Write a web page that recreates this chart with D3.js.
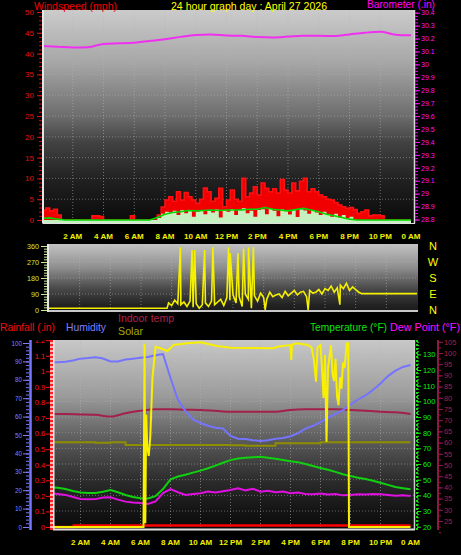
<!DOCTYPE html>
<html><head><meta charset="utf-8">
<script src="https://cdn.jsdelivr.net/npm/d3@7/dist/d3.min.js"></script>
<style>html,body{margin:0;padding:0;background:#000;overflow:hidden}svg{display:block}</style>
</head><body><svg id="chart" width="461" height="555"></svg>
<script>
// ---------------- DATA ----------------
const timeLabels = ["2 AM","4 AM","6 AM","8 AM","10 AM","12 PM","2 PM","4 PM","6 PM","8 PM","10 PM","0 AM"];
const labelHours = [2,4,6,8,10,12,14,16,18,20,22,24];

// wind (mph), 15-minute samples from 0:00 to 24:00
const windStep = 0.25;
const gustValues = [2.4,2.9,2.2,2.6,1.2, 0,0,0,0,0,0,0,0, 1,1,0.8, 0,0,0,0,0,0,0, 1, 0,0,0,0,0,0,
  1.2,3.1,4.8,5.6,4.5,6.8,4.8,6.6,5.6,4.8, 4,5,7.7,6.8,4.5,5.2,7.6,3.2, 4.8,7.2,5,4.5,10,5.6,6.5,8,
  6,8.9,7.6,6.8,7.5,6.5,9.7,7.2, 6.5,8.9,7,9.3,10,6.8,7.5,6.8, 6,5.6,5,4.8,4.2,3.6,3.2,2.8,
  3,2.5,1.6,2,2.4,1,1.2,1.2, 1, 0,0,0,0,0,0,0,0];
const speedValues = [0,0,0,0,0,0,0,0,0,0,0,0,0,0,0,0,0,0,0,0,0,0,0,0,0,0,0,0,0,0,
  0.5,1.5,2,1.8,2.2,1.2,2.4,1.6,2.2,0.8, 2,2.4,1.4,2.2,1.8,2.5,0.6,2.3, 2,2.6,1.2,2.4,2.8,1.6,2.2,0.8,
  2.4,2.6,1.4,2.7,2.2,0.9,2.5,2.1, 1.3,2.4,0.7,2.6,2.3,1.5,2.2,1.8, 1.2,2,1.4,0.8,1.5,0.6,1.2,0.4, 0.8,0,
  0,0,0,0,0,0,0,0,0,0,0,0,0,0,0];
// average wind, 30-minute samples
const avgStep = 0.5;
const avgValues = [0.4,0.5,0.2, 0,0,0,0,0,0,0,0,0,0,0,0,
  0.6,1.4,1.8,2,2.3,2.2,2.3,2.4,2.3,2.4,2.4,2.4,2.6,2.6,3,2.6,2.4,2.2,2.5,2.8,2.4,2,1.4,1,0.6,0.2,
  0,0,0,0,0,0,0,0];
// barometer (in), hourly
const baroValues = [30.142,30.137,30.131,30.133,30.158,30.163,30.168,30.181,30.194,30.213,30.228,30.232,30.224,
  30.221,30.212,30.209,30.215,30.222,30.222,30.219,30.232,30.245,30.252,30.23,30.225];

// wind direction (degrees)
const dirStart = 7.8, dirStep = 0.2;
const dirValues = [40,25,55,35, 30,45,20,50, 15,35,10,30, 40,20,50,30, 45,60,25,70, 55,85,40,75,
  20,90,60,10, 80,50,95,70, 60,100,75,85, 90,70,105,80, 95,110,85,100, 105,75,110,95,
  100,115,90,120, 110,135,100,125, 140,120,150,110, 130,115,100,92];
const dirSpikes = [[8.57,353],[9.33,337],[9.5,337],[10.15,337],[10.69,353],[11.71,353],[11.82,319],
  [12.32,319],[12.69,345],[13.01,353],[13.33,353],[14.1,0],[16.9,0],[18.97,30]];
const dirFlat = [[0,10],[7.7,10],[20.5,92],[24,92]];
const dirTicks = [0,90,180,270,360];
const compass = ["N","W","S","E","N"];

// bottom panel, 30-minute samples
const halfStep = 0.5;
const humidity = [89.5,89.6,89.8,90.5,91.5,91.8,92.2,91.6,90,89.9, 91,91.5,92,92.4,93.3,94,81,69,63,58.5,
  56.5,55,54,53.5,49.5,48,47.8,47.2,46.8,47.2, 47.9,48.4,49.3,51,53.5,55,57,59.5,61.5,63.5,
  66.5,69.3,71.5,74.5,78,82,85,87,88];
const temperature = [45.2,44.8,44,42.8,41.8,41.5,41.5,42.3,43.4,42, 40.2,39,38.1,38,39.5,44,50.2,52,53.2,54.5,
  55.8,57.3,59,60.8,62.5,63.5,64,64.3,64.7,64, 63.4,62.6,61.8,61.2,60,58.7,57.5,56.3,55,53.5,
  52.3,51.3,50.4,49.3,48.1,46.7,45.4,44.6,43.9];
const dewPoint = [41.3,40.9,40.3,39,37.7,37.5,37.6,38.6,38.8,37.3, 36,35.5,35.2,34.5,36.2,41.5,44,42,40.3,40.8,
  41.3,42.4,41.8,42.6,43.4,44.5,43.2,44.2,42.3,43, 42,42.4,41.3,41.8,40.9,40.7,41.2,40.5,40.8,40,
  40.3,40.7,40.5,40.8,40.7,40.3,39.8,40,39.6];
// hourly
const indoorTemp = [72.8,72.8,72.6,72.4,71.6,73.1,74.2,74.9,74.9,74.7,74.6,74.2,73.8,73.8,73.8,73.8,74.6,74.9,74.9,74.9,74.6,74.2,73.8,73.5,72.8];
const indoorHum = [46,46,46,45.8,46,44.6,44.6,44.6,44.6,44.6,44.6,44.6,44.4,44.2,44.2,45.5,45.5,45.5,46,46,46,46,46,46,46];
// solar (W/m2), irregular samples
const solarTimes = [0,6.2,6.27,6.32,6.38,6.45,6.55,6.65,6.8,7.0, 7.33,7.8,8.2,9.1,10,11.1,12,14.9,15.1,16,
  16.05,16.1,16.4,17.1,17.4,17.55,17.7,17.8,18,18.1, 18.2,18.3,18.4,18.5,18.7,18.8,18.9,19.0,19.1,19.2,
  19.3,19.4,19.5,19.6,19.75,19.85,19.9,24];
const solarValues = [0,0,980,20,600,430,380,480,800,964, 956,941,973,982,988,968,959,956,964,973,
  893,975,982,975,960,900,777,960,973,850, 690,920,456,850,973,820,781,900,700,652,
  800,740,880,850,982,982,0,0];
// rainfall (in)
const rainTimes = [0,1.55,24];
const rainValues = [0,0.01,0.01];

const windTicks = [0,5,10,15,20,25,30,35,40,45,50];
const baroTicks = [28.8,28.9,29,29.1,29.2,29.3,29.4,29.5,29.6,29.7,29.8,29.9,30,30.1,30.2,30.3,30.4];
const humTicks = [0,10,20,30,40,50,60,70,80,90,100];
const rainTicks = [0,0.1,0.2,0.3,0.4,0.5,0.6,0.7,0.8,0.9,1,1.1,1.2];
const tempTicks = [20,30,40,50,60,70,80,90,100,110,120,130];
const inTicks = [25,30,35,40,45,50,55,60,65,70,75,80,85,90,95,100,105];

// ---------------- SETUP ----------------
const FONT = "'Liberation Sans', Arial, sans-serif";
const svg = d3.select("#chart");
svg.append("rect").attr("width",461).attr("height",555).attr("fill","#000");
const defs = svg.append("defs");
function gradient(id, stops){
  const g = defs.append("linearGradient").attr("id",id).attr("x1",0).attr("y1",0).attr("x2",0).attr("y2",1);
  stops.forEach(s=>g.append("stop").attr("offset",s[0]).attr("stop-color",s[1]));
}
function clip(id,b){
  defs.append("clipPath").attr("id",id).append("rect").attr("x",b.x0).attr("y",b.y0).attr("width",b.x1-b.x0).attr("height",b.y1-b.y0);
}
function txt(x,y,s,color,size,anchor,weight,len){
  const t = svg.append("text").attr("x",x).attr("y",y).text(s).attr("fill",color).attr("font-size",size)
    .attr("font-family",FONT).attr("text-anchor",anchor||"start").attr("font-weight",weight||"normal");
  if(len) t.attr("textLength",len).attr("lengthAdjust","spacingAndGlyphs");
  return t;
}
function styleAxis(g,color,size,lineColor){
  g.attr("font-family",FONT).attr("font-size",size);
  g.select(".domain").remove();
  g.selectAll(".tick line").attr("stroke",lineColor||color);
  g.selectAll(".tick text").attr("fill",color);
  return g;
}
function panelBg(b,id){
  svg.append("rect").attr("x",b.x0).attr("y",b.y0).attr("width",b.x1-b.x0).attr("height",b.y1-b.y0).attr("fill",`url(#${id})`);
}
function grid(g,b,xs,xScale,ys,yScale){
  g.selectAll(null).data(xs).join("line").attr("x1",d=>xScale(d)).attr("x2",d=>xScale(d)).attr("y1",b.y0).attr("y2",b.y1)
    .attr("stroke","#b4b4b4").attr("stroke-opacity",0.55).attr("stroke-dasharray","1,2");
  g.selectAll(null).data(ys).join("line").attr("y1",d=>yScale(d)).attr("y2",d=>yScale(d)).attr("x1",b.x0).attr("x2",b.x1)
    .attr("stroke","#b4b4b4").attr("stroke-opacity",0.5).attr("stroke-dasharray","1,2");
}
const gridHours = labelHours.slice(0,-1);

// ---------------- TOP PANEL ----------------
const topBox = {x0:43,x1:415,y0:10,y1:223.5};
const xTop = d3.scaleLinear([0,24],[42,411]);
const yWind = d3.scaleLinear([0,50],[220,12]);
const yBaro = d3.scaleLinear([28.8,30.4],[219.5,12.7]);
gradient("gTop",[[0,"#cbcbcb"],[0.25,"#a6a6a6"],[0.5,"#6c6c6c"],[0.62,"#424242"],[0.8,"#202020"],[1,"#0a0a0a"]]);
panelBg(topBox,"gTop");
clip("cTop",topBox);
const gT = svg.append("g").attr("clip-path","url(#cTop)");
grid(gT,topBox,gridHours,xTop,windTicks.slice(1,-1),yWind);
const wx = (d,i)=>xTop(i*windStep);
gT.append("path").datum(gustValues).attr("d",d3.area().curve(d3.curveStepAfter).x(wx).y0(yWind(0)).y1(d=>yWind(d))).attr("fill","#f00000");
gT.append("path").datum(gustValues).attr("d",d3.line().curve(d3.curveStepAfter).x(wx).y(d=>yWind(d))).attr("fill","none").attr("stroke","#ff1010").attr("stroke-width",1.6);
gT.append("path").datum(speedValues).attr("d",d3.area().curve(d3.curveStepAfter).x(wx).y0(yWind(-0.8)).y1(d=>yWind(d))).attr("fill","#c6f0c0");
gT.append("path").datum(avgValues).attr("d",d3.line().x((d,i)=>xTop(i*avgStep)).y(d=>yWind(d))).attr("fill","none").attr("stroke","#00d800").attr("stroke-width",1.6);
gT.append("path").datum(baroValues).attr("d",d3.line().curve(d3.curveMonotoneX).x((d,i)=>xTop(i)).y(d=>yBaro(d))).attr("fill","none").attr("stroke","#f030f0").attr("stroke-width",2);
// frame
svg.append("line").attr("x1",topBox.x0).attr("x2",topBox.x0).attr("y1",topBox.y0).attr("y2",topBox.y1).attr("stroke","#e6e6e6").attr("stroke-width",2);
svg.append("line").attr("x1",topBox.x0).attr("x2",topBox.x1).attr("y1",topBox.y1).attr("y2",topBox.y1).attr("stroke","#e0e0e0").attr("stroke-width",1);
svg.append("line").attr("x1",topBox.x1-0.5).attr("x2",topBox.x1-0.5).attr("y1",topBox.y0).attr("y2",topBox.y1).attr("stroke","#d8d8d8").attr("stroke-width",1.5);
// axes
styleAxis(svg.append("g").attr("transform",`translate(${topBox.x0-1},0)`).call(d3.axisLeft(yWind).tickValues(d3.range(0,51,1)).tickSize(3).tickFormat("")),"#e00000",8);
styleAxis(svg.append("g").attr("transform",`translate(${topBox.x0-1},0)`).call(d3.axisLeft(yWind).tickValues(windTicks).tickSize(5).tickPadding(3)),"#e01010",8);
styleAxis(svg.append("g").attr("transform",`translate(${topBox.x1},0)`).call(d3.axisRight(yBaro).tickValues(d3.range(28.8,30.41,0.025)).tickSize(3).tickFormat("")),"#ff00ff",7);
styleAxis(svg.append("g").attr("transform",`translate(${topBox.x1},0)`).call(d3.axisRight(yBaro).tickValues(baroTicks).tickSize(5).tickPadding(1).tickFormat(d=>String(+d.toFixed(1)))),"#ff10ff",7);
// titles
txt(34,9.5,"Windspeed (mph)","#f00000",10,"start","normal",83);
txt(171,9.5,"24 hour graph day : April 27 2026","#ffff00",10,"start","normal",156);
txt(367,7.5,"Barometer (.in)","#ff00ff",10,"start","normal",68);
labelHours.forEach((h,i)=>txt(xTop(h),238.5,timeLabels[i],"#f4f000",8,"middle","bold"));

// ---------------- MIDDLE PANEL ----------------
const midBox = {x0:49,x1:418,y0:244,y1:312};
const xMid = d3.scaleLinear([0,24],[49,417]);
const yDir = d3.scaleLinear([0,360],[310,246]);
gradient("gMid",[[0,"#c2c2c2"],[0.35,"#8e8e8e"],[0.65,"#4a4a4a"],[0.9,"#222"],[1,"#1a1a1a"]]);
panelBg(midBox,"gMid");
clip("cMid",midBox);
const gM = svg.append("g").attr("clip-path","url(#cMid)");
grid(gM,midBox,gridHours,xMid,[90,180,270],yDir);
const dirPoints = dirFlat.concat(dirValues.map((v,i)=>[dirStart+i*dirStep,v]), dirSpikes).sort((a,b)=>a[0]-b[0]);
gM.append("path").datum(dirPoints).attr("d",d3.line().x(d=>xMid(d[0])).y(d=>yDir(d[1]))).attr("fill","none").attr("stroke","#f4f000").attr("stroke-width",1.6);
svg.append("line").attr("x1",midBox.x0-1).attr("x2",midBox.x0-1).attr("y1",midBox.y0).attr("y2",midBox.y1).attr("stroke","#e6e6e6").attr("stroke-width",2);
svg.append("line").attr("x1",midBox.x0).attr("x2",midBox.x1).attr("y1",midBox.y1-1).attr("y2",midBox.y1-1).attr("stroke","#c8c8c8").attr("stroke-width",2);
styleAxis(svg.append("g").attr("transform",`translate(${midBox.x0-2},0)`).call(d3.axisLeft(yDir).tickValues(d3.range(0,361,15)).tickSize(3).tickFormat("")),"#c8e8a0",7);
styleAxis(svg.append("g").attr("transform",`translate(${midBox.x0-2},0)`).call(d3.axisLeft(yDir).tickValues(dirTicks).tickSize(6).tickPadding(2)),"#d4e830",7.2,"#c8e8a0");
dirTicks.forEach((d,i)=>txt(433,yDir(360-d)+4,compass[i],"#ffff00",11,"middle"));

// ---------------- BOTTOM PANEL ----------------
const botBox = {x0:53,x1:415,y0:340,y1:530};
const xBot = d3.scaleLinear([0,24],[50.5,410.5]);
const yHum = d3.scaleLinear([0,100],[527,343]);
const yRain = d3.scaleLinear([0,1.2],[527,340.2]);
const yTemp = d3.scaleLinear([20,140],[526.7,338.7]);
const yIn = d3.scaleLinear([20,105],[532.2,341.8]);
const ySolar = d3.scaleLinear([0,1000],[527,340]);
gradient("gBot",[[0,"#c8c8c8"],[0.3,"#9a9a9a"],[0.47,"#6a6a6a"],[0.6,"#4a4a4a"],[0.75,"#2a2a2a"],[0.9,"#141414"],[1,"#0a0a0a"]]);
panelBg(botBox,"gBot");
clip("cBot",botBox);
const gB = svg.append("g").attr("clip-path","url(#cBot)");
grid(gB,botBox,gridHours,xBot,tempTicks.slice(1),yTemp);
const hx = (d,i)=>xBot(i*halfStep);
const lineOf = (yS,xf)=>d3.line().x(xf).y(d=>yS(d));
gB.append("path").datum(indoorHum).attr("d",d3.line().curve(d3.curveStepAfter).x((d,i)=>xBot(i)).y(d=>yHum(d))).attr("fill","none").attr("stroke","#8e8e00").attr("stroke-width",2);
gB.append("path").datum(indoorTemp).attr("d",d3.line().curve(d3.curveMonotoneX).x((d,i)=>xBot(i)).y(d=>yIn(d))).attr("fill","none").attr("stroke","#a2204a").attr("stroke-width",2);
gB.append("path").datum(humidity).attr("d",lineOf(yHum,hx)).attr("fill","none").attr("stroke","#7474ff").attr("stroke-width",2);
gB.append("path").datum(temperature).attr("d",lineOf(yTemp,hx)).attr("fill","none").attr("stroke","#10d010").attr("stroke-width",2);
gB.append("path").datum(dewPoint).attr("d",lineOf(yTemp,hx)).attr("fill","none").attr("stroke","#e010e0").attr("stroke-width",2);
gB.append("path").datum(rainValues).attr("d",d3.line().curve(d3.curveStepAfter).x((d,i)=>xBot(rainTimes[i])).y(d=>yRain(d))).attr("fill","none").attr("stroke","#ff0000").attr("stroke-width",2.5);
gB.append("path").datum(solarValues).attr("d",d3.line().x((d,i)=>xBot(solarTimes[i])).y(d=>ySolar(d))).attr("fill","none").attr("stroke","#f8f000").attr("stroke-width",2);
// frame
svg.append("line").attr("x1",botBox.x0+0.5).attr("x2",botBox.x0+0.5).attr("y1",botBox.y0).attr("y2",botBox.y1).attr("stroke","#ececec").attr("stroke-width",2);
svg.append("line").attr("x1",botBox.x0).attr("x2",botBox.x1).attr("y1",botBox.y1-0.5).attr("y2",botBox.y1-0.5).attr("stroke","#e0e0e0").attr("stroke-width",2);
svg.append("line").attr("x1",botBox.x1-0.5).attr("x2",botBox.x1-0.5).attr("y1",botBox.y0).attr("y2",botBox.y1).attr("stroke","#cfcfcf").attr("stroke-width",1.5);
// axes (clipped at the top of the panel)
clip("cAx",{x0:0,y0:botBox.y0,x1:461,y1:555});
const gAx = svg.append("g").attr("clip-path","url(#cAx)");
// humidity
gAx.append("line").attr("x1",30.5).attr("x2",30.5).attr("y1",botBox.y0).attr("y2",botBox.y1).attr("stroke","#7878ff").attr("stroke-width",2.5);
styleAxis(gAx.append("g").attr("transform","translate(29,0)").call(d3.axisLeft(yHum).tickValues(d3.range(0,101,2)).tickSize(3).tickFormat("")),"#7878ff",6);
styleAxis(gAx.append("g").attr("transform","translate(29,0)").call(d3.axisLeft(yHum).tickValues(humTicks).tickSize(6).tickPadding(1)),"#8080ff",6.3);
// rainfall
gAx.append("line").attr("x1",51.5).attr("x2",51.5).attr("y1",botBox.y0).attr("y2",botBox.y1).attr("stroke","#ffb0b0").attr("stroke-width",3);
gAx.append("line").attr("x1",51.5).attr("x2",51.5).attr("y1",botBox.y0).attr("y2",botBox.y1).attr("stroke","#ff2020").attr("stroke-width",3).attr("stroke-dasharray","2,2");
styleAxis(gAx.append("g").attr("transform","translate(50,0)").call(d3.axisLeft(yRain).tickValues(rainTicks).tickSize(4).tickPadding(1).tickFormat(d=>String(+d.toFixed(1)))),"#ff1010",7.4);
// temperature
gAx.append("line").attr("x1",417).attr("x2",417).attr("y1",botBox.y0).attr("y2",botBox.y1).attr("stroke","#10e010").attr("stroke-width",2).attr("stroke-dasharray","2,2");
styleAxis(gAx.append("g").attr("transform","translate(417,0)").call(d3.axisRight(yTemp).tickValues(d3.range(20,141,2)).tickSize(2).tickFormat("")),"#10e010",7);
styleAxis(gAx.append("g").attr("transform","translate(417,0)").call(d3.axisRight(yTemp).tickValues(tempTicks).tickSize(4).tickPadding(2)),"#10f010",7.4);
// indoor temp axis
gAx.append("line").attr("x1",438).attr("x2",438).attr("y1",botBox.y0).attr("y2",botBox.y1).attr("stroke","#8c1a44").attr("stroke-width",2);
styleAxis(gAx.append("g").attr("transform","translate(439,0)").call(d3.axisRight(yIn).tickValues(d3.range(20,106,2.5)).tickSize(2).tickFormat("")),"#8c1a44",7);
styleAxis(gAx.append("g").attr("transform","translate(439,0)").call(d3.axisRight(yIn).tickValues(inTicks).tickSize(4).tickPadding(1)),"#a8204c",7.4,"#8c1a44");
// titles
txt(0,331,"Rainfall (.in)","#f01010",10.5,"start","normal",55);
txt(66,331,"Humidity","#8080ff",10.5,"start","normal",40);
txt(118,322,"Indoor temp","#b0204c",10.5,"start","normal",56);
txt(118,335,"Solar","#a8a800",10.5,"start","normal",25);
txt(310,331,"Temperature (°F)","#10e010",10.5,"start","normal",77);
txt(390,331,"Dew Point (°F)","#ff10ff",10.5,"start","normal",70);
labelHours.forEach((h,i)=>txt(xBot(h),545,timeLabels[i],"#f4f000",8,"middle","bold"));
</script></body></html>
